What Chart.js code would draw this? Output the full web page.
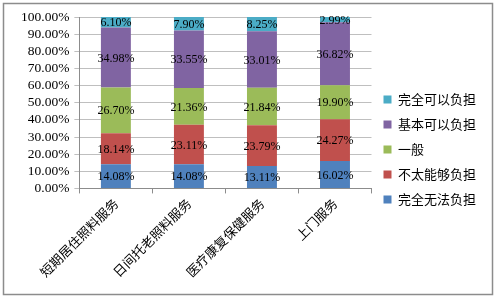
<!DOCTYPE html>
<html>
<head>
<meta charset="utf-8">
<script src="https://cdn.jsdelivr.net/npm/chart.js@4/dist/chart.umd.min.js"></script>
<style>
  html, body { margin:0; padding:0; background:#fff; }
  #wrap { width:496px; height:298px; position:relative; }
</style>
</head>
<body>
<div id="wrap"><canvas id="c"></canvas></div>
<script>
/* ── data ── */
const CATEGORIES = ['短期居住照料服务', '日间托老照料服务', '医疗康复保健服务', '上门服务'];
const SERIES_NAMES = ['完全无法负担', '不太能够负担', '一般', '基本可以负担', '完全可以负担'];
const CANNOT_AT_ALL = [14.08, 14.08, 13.11, 16.02];
const HARDLY = [18.14, 23.11, 23.79, 24.27];
const AVERAGE = [26.70, 21.36, 21.84, 19.90];
const MOSTLY = [34.98, 33.55, 33.01, 36.82];
const FULLY = [6.10, 7.90, 8.25, 2.99];
const Y_TICKS = [0, 10, 20, 30, 40, 50, 60, 70, 80, 90, 100];

const COLORS = ['#4F81BD', '#C0504D', '#9BBB59', '#8064A2', '#4BACC6'];
const SERIF = "'Liberation Serif', 'Noto Sans CJK SC', serif";
const CJK = "'Noto Sans CJK SC', sans-serif";
const GRID = '#BFBFBF';

/* ── segment value labels ── */
const valueLabels = {
  id: 'valueLabels',
  afterDatasetsDraw(chart) {
    const ctx = chart.ctx;
    ctx.save();
    ctx.font = '12px ' + SERIF;
    ctx.fillStyle = '#000';
    ctx.textAlign = 'center';
    ctx.textBaseline = 'middle';
    chart.data.datasets.forEach((ds, i) => {
      chart.getDatasetMeta(i).data.forEach((bar, j) => {
        ctx.fillText(ds.data[j].toFixed(2) + '%', bar.x, (bar.y + bar.base) / 2 + 1);
      });
    });
    ctx.restore();
  }
};

/* ── outer frame ── */
const frame = {
  id: 'frame',
  beforeDraw(chart) {
    const ctx = chart.ctx;
    ctx.save();
    ctx.fillStyle = '#fff';
    ctx.fillRect(0, 0, chart.width, chart.height);
    ctx.strokeStyle = '#8C8C8C';
    ctx.lineWidth = 1.5;
    ctx.strokeRect(3.5, 3.5, chart.width - 7, chart.height - 7);
    ctx.restore();
  }
};

const seriesData = [CANNOT_AT_ALL, HARDLY, AVERAGE, MOSTLY, FULLY];

new Chart(document.getElementById('c'), {
  type: 'bar',
  data: {
    labels: CATEGORIES,
    datasets: SERIES_NAMES.map((name, i) => ({
      label: name,
      data: seriesData[i],
      backgroundColor: COLORS[i],
      borderWidth: 0,
      barPercentage: 0.41,
      categoryPercentage: 1
    }))
  },
  options: {
    responsive: true, maintainAspectRatio: false, animation: false,
    devicePixelRatio: 1,
    layout: { padding: { left: 16, right: 10, top: 17, bottom: 16 } },
    plugins: {
      legend: {
        position: 'right', reverse: true,
        labels: { font: { family: CJK, size: 13 }, color: '#000', boxWidth: 8, boxHeight: 8, padding: 12 }
      },
      tooltip: { enabled: false }
    },
    scales: {
      x: {
        stacked: true,
        grid: { offset: true, drawOnChartArea: false, drawTicks: true, tickLength: 5, color: '#8C8C8C' },
        border: { color: '#8C8C8C' },
        ticks: { font: { family: CJK, size: 13 }, color: '#000', minRotation: 45, maxRotation: 45, padding: 2 }
      },
      y: {
        stacked: true, min: 0, max: 100,
        afterBuildTicks: ax => { ax.ticks = Y_TICKS.map(v => ({ value: v })); },
        grid: { color: GRID, tickLength: 5 },
        border: { color: '#8C8C8C' },
        ticks: { autoSkip: false, font: { family: SERIF, size: 13.5 }, color: '#000', padding: 5, callback: v => v.toFixed(2) + '%' }
      }
    }
  },
  plugins: [frame, valueLabels]
});
</script>
</body>
</html>
